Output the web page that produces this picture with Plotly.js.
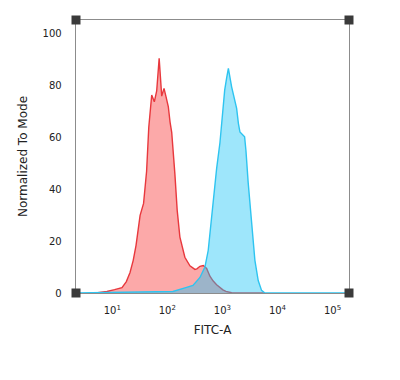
<!DOCTYPE html>
<html>
<head>
<meta charset="utf-8">
<script src="https://cdn.plot.ly/plotly-3.0.1.min.js"></script>
<style>html,body{margin:0;padding:0;background:#fff;}#chart{width:400px;height:380px;}</style>
</head>
<body>
<div id="chart"></div>
<script>
// Red (control) histogram: FITC-A intensity and normalized-to-mode counts
var redX = [5, 8, 11, 15, 18, 21, 24, 27, 32, 37, 42, 46, 52, 58, 64, 71, 79, 87, 94, 104, 112, 120, 137, 151, 169, 208, 257, 317, 344, 391, 449, 517, 593, 681, 785, 902, 1021, 1158, 1470, 2500, 5900];
var redY = [0, 0.6, 1.3, 2.1, 4.4, 7.9, 12.6, 18.4, 30, 34.6, 47, 64, 76.4, 73.8, 78, 90.6, 76, 79, 76, 72, 66, 62, 46, 31.9, 21.6, 13.8, 10.5, 9.1, 9.3, 10.3, 10.6, 9.5, 6.5, 4.6, 3.2, 2.0, 1.2, 0.6, 0.1, 0, 0];
// Blue (stained) histogram
var blueX = [2.2, 55, 126, 209, 292, 391, 481, 552, 681, 785, 902, 966, 1036, 1100, 1192, 1283, 1470, 1690, 1812, 1950, 2080, 2530, 2675, 2940, 3388, 3890, 4467, 5140, 5900, 200000];
var blueY = [0, 0.3, 0.6, 2, 2.9, 6, 10, 16.4, 35.8, 48, 58, 65.5, 72, 78.3, 83, 86.7, 79.6, 73.8, 71.3, 65.5, 62.2, 60.3, 55, 42.5, 25.5, 12.6, 4.8, 1, 0, 0];
// Axis ticks
var xTickVals = [10, 100, 1000, 10000, 100000];
var xTickText = ['10<sup>1</sup>', '10<sup>2</sup>', '10<sup>3</sup>', '10<sup>4</sup>', '10<sup>5</sup>'];
var yTickVals = [0, 20, 40, 60, 80, 100];

var traces = [
  {x: redX, y: redY, type: 'scatter', mode: 'lines', fill: 'tozeroy',
   line: {color: '#e8383d', width: 1.4}, fillcolor: 'rgba(250,90,90,0.52)', hoverinfo: 'none'},
  {x: blueX, y: blueY, type: 'scatter', mode: 'lines', fill: 'tozeroy',
   line: {color: '#2ec4f0', width: 1.4}, fillcolor: 'rgba(25,195,245,0.42)', hoverinfo: 'none'}
];

function corner(px, py) {
  return {type: 'rect', xref: 'paper', yref: 'paper', xsizemode: 'pixel', ysizemode: 'pixel',
          xanchor: px, yanchor: py, x0: -4.5, x1: 4.5, y0: -4.5, y1: 4.5,
          fillcolor: '#3a3a3a', line: {width: 0}, layer: 'above'};
}

var layout = {
  width: 400, height: 380,
  margin: {l: 76, r: 51, t: 20, b: 87},
  paper_bgcolor: '#fff', plot_bgcolor: '#fff',
  showlegend: false,
  font: {family: 'DejaVu Sans, sans-serif', size: 10, color: '#222'},
  xaxis: {
    type: 'log', range: [0.341, 5.299],
    tickvals: xTickVals, ticktext: xTickText,
    showgrid: false, zeroline: false, ticks: '',
    ticklabelstandoff: 8,
    showline: true, mirror: true, linecolor: '#8c8c8c', linewidth: 1.3,
    title: {text: 'FITC-A', font: {size: 12, color: '#222'}, standoff: 10}
  },
  yaxis: {
    range: [0, 105.4],
    tickvals: yTickVals,
    showgrid: false, zeroline: false, ticks: '',
    ticklabelstandoff: 11,
    showline: true, mirror: true, linecolor: '#8c8c8c', linewidth: 1.3,
    title: {text: 'Normalized To Mode', font: {size: 12, color: '#222'}, standoff: 12}
  },
  shapes: [corner(0, 0), corner(1, 0), corner(0, 1), corner(1, 1)]
};

Plotly.newPlot('chart', traces, layout, {displayModeBar: false, staticPlot: true});
</script>
</body>
</html>
